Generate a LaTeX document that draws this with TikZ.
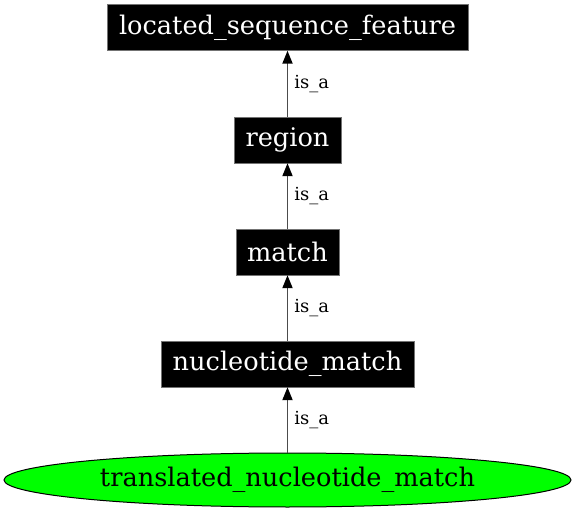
\documentclass[tikz,border=0pt]{standalone}
\usepackage{fontspec}
\setmainfont{DejaVu Serif}
\usetikzlibrary{shapes.geometric,arrows.meta}

\begin{document}
\begin{tikzpicture}[x=1pt, y=1pt]
				\tikzstyle{every node}=[inner sep=1pt, align=center]
				\tikzstyle{term}=[fill=black, draw=black!55, text=white, inner xsep=0pt, minimum height=46pt, font=\fontsize{25.6}{27}\selectfont]
				\tikzstyle{isa}=[draw=black!70, line width=1.8pt, -{Triangle[length=13pt, width=10pt, black]}]
				\tikzstyle{lbl}=[midway, right=5pt, font=\fontsize{18}{20}\selectfont]
				\useasboundingbox (0, 0) rectangle (576, 512);
				\node[term, minimum width=361pt] (LSF) at (287.5, 484.5) {located\_sequence\_feature};
				\node[term, minimum width=107pt] (R) at (287.5, 372) {region};
				\node[term, minimum width=103pt] (M) at (287.5, 260) {match};
				\node[term, minimum width=253pt] (NM) at (287.5, 148) {nucleotide\_match};
				\node[ellipse, fill=green, draw=black, line width=1pt, inner sep=0pt, minimum width=567pt, minimum height=54pt, font=\fontsize{25.6}{27}\selectfont] (TNM) at (287.5, 32) {translated\_nucleotide\_match};
				\draw [isa] (R) -- (LSF) node[lbl] {is\_a};
				\draw [isa] (M) -- (R) node[lbl] {is\_a};
				\draw [isa] (NM) -- (M) node[lbl] {is\_a};
				\draw [isa] (TNM) -- (NM) node[lbl] {is\_a};
		\end{tikzpicture}
\end{document}
